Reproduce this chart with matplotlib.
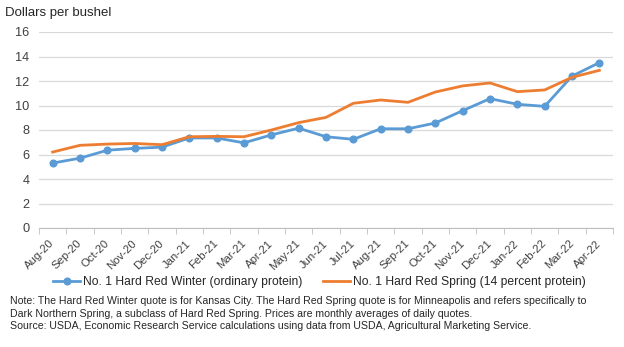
import numpy as np
import matplotlib.pyplot as plt
from matplotlib.transforms import ScaledTranslation

plt.rcParams['font.family'] = ['Liberation Sans', 'DejaVu Sans']

months = ['Aug-20', 'Sep-20', 'Oct-20', 'Nov-20', 'Dec-20', 'Jan-21', 'Feb-21',
          'Mar-21', 'Apr-21', 'May-21', 'Jun-21', 'Jul-21', 'Aug-21', 'Sep-21',
          'Oct-21', 'Nov-21', 'Dec-21', 'Jan-22', 'Feb-22', 'Mar-22', 'Apr-22']
hrw = [5.3, 5.7, 6.35, 6.5, 6.6, 7.35, 7.35, 6.95, 7.6, 8.15, 7.45,
       7.24, 8.1, 8.1, 8.57, 9.58, 10.56, 10.1, 9.93, 12.4, 13.5]
hrs = [6.2, 6.75, 6.85, 6.9, 6.8, 7.45, 7.48, 7.45, 8.0, 8.6, 9.03,
       10.18, 10.45, 10.26, 11.1, 11.6, 11.84, 11.13, 11.27, 12.3, 12.87]
yticks = [0, 2, 4, 6, 8, 10, 12, 14, 16]

fig = plt.figure(figsize=(6.24, 3.47), dpi=100)
ax = fig.add_axes([39 / 624, 1 - 228 / 347, 574 / 624, 196 / 347])

x = np.arange(len(months))
ax.plot(x, hrw, color='#5B9BD5', lw=2.0, marker='o', ms=4.8,
        label='No. 1 Hard Red Winter (ordinary protein)', zorder=3)
ax.plot(x, hrs, color='#ED7D31', lw=2.0,
        label='No. 1 Hard Red Spring (14 percent protein)', zorder=3)

ax.set_xlim(-0.5, len(months) - 0.5)
ax.set_ylim(0, 16)
ax.set_yticks(yticks)
ax.tick_params(axis='y', length=0, labelsize=9.2, colors='#404040', pad=7)
ax.yaxis.grid(True, color='#d9d9d9', lw=0.9)
ax.set_axisbelow(True)

# x labels rotated, ending near the category centre (Excel style)
ax.set_xticks(x)
ax.set_xticklabels(months, rotation=45, ha='right', va='center',
                   rotation_mode='anchor', fontsize=8.2, color='#404040')
shift = ScaledTranslation(-4 / 100, 0, fig.dpi_scale_trans)
for lab in ax.get_xticklabels():
    lab.set_transform(lab.get_transform() + shift)
ax.set_xticks(np.arange(-0.5, len(months)), minor=True)
ax.tick_params(axis='x', which='major', length=0, pad=10)
ax.tick_params(axis='x', which='minor', length=4, color='#bfbfbf')

for s in ['top', 'right', 'left']:
    ax.spines[s].set_visible(False)
ax.spines['bottom'].set_color('#bfbfbf')

fig.text(5 / 624, 1 - 13 / 347, 'Dollars per bushel', fontsize=9.5,
         color='#262626', va='center')

fig.legend(loc='center', bbox_to_anchor=(319.5 / 624, 1 - 282 / 347), ncol=2,
           frameon=False, fontsize=8.7, handlelength=2.2, columnspacing=1.75,
           handletextpad=0.25, labelcolor='#262626')

notes = ('Note: The Hard Red Winter quote is for Kansas City. The Hard Red Spring quote is for Minneapolis and refers specifically to\n'
         'Dark Northern Spring, a subclass of Hard Red Spring. Prices are monthly averages of daily quotes.\n'
         'Source: USDA, Economic Research Service calculations using data from USDA, Agricultural Marketing Service.')
fig.text(10 / 624, 1 - 296 / 347, notes, fontsize=7.6, color='#262626',
         va='top', linespacing=1.32)

plt.savefig('out.png', dpi=100)
